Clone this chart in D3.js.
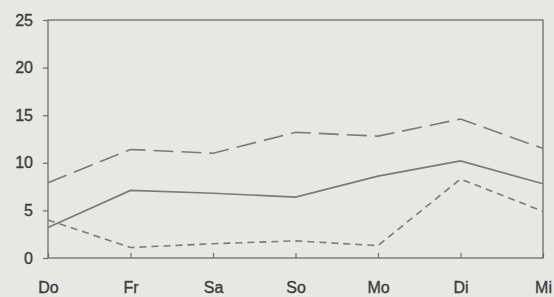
<!DOCTYPE html>
<html><head><meta charset="utf-8">
<script src="https://cdn.jsdelivr.net/npm/d3@7"></script>
<style>html,body{margin:0;padding:0;background:#e7e7e3;}svg{display:block;}</style>
</head><body>
<svg id="c" width="554" height="297"></svg>
<script>
const days = ["Do","Fr","Sa","So","Mo","Di","Mi"];
const longDash = [7.9, 11.4, 11.0, 13.2, 12.8, 14.6, 11.5];
const solid = [3.2, 7.1, 6.8, 6.4, 8.6, 10.2, 7.8];
const shortDash = [4.0, 1.1, 1.5, 1.8, 1.3, 8.3, 4.9];
const yTicks = [0, 5, 10, 15, 20, 25];

const svg = d3.select("#c");
const L = 48, R = 543, T = 20, B = 258;
const x = d3.scalePoint().domain(days).range([L, R]);
const y = d3.scaleLinear().domain([0, 25]).range([B, T]);
const ink = "#6e6e6e", txt = "#3c3c3c";

// frame
svg.append("rect").attr("x", L).attr("y", T).attr("width", R - L).attr("height", B - T)
  .attr("fill", "none").attr("stroke", ink).attr("stroke-width", 1.3);

const yAxis = svg.append("g").attr("transform", `translate(${L},0)`)
  .call(d3.axisLeft(y).tickValues(yTicks).tickSize(5).tickPadding(10));
const xAxis = svg.append("g").attr("transform", `translate(0,${B})`)
  .call(d3.axisBottom(x).tickSize(-5).tickPadding(24));
[yAxis, xAxis].forEach(g => {
  g.select(".domain").remove();
  g.selectAll("line").attr("stroke", ink).attr("stroke-width", 1.2);
  g.selectAll("text").attr("fill", txt).style("font-family", "Liberation Sans, Arial, sans-serif")
    .style("font-size", "16px").attr("stroke", txt).attr("stroke-width", 0.35);
});

const line = d3.line().x((d, i) => x(days[i])).y(d => y(d));
const series = [
  {v: longDash, dash: "20,8"},
  {v: solid, dash: null},
  {v: shortDash, dash: "7,5"}
];
series.forEach(s => {
  const p = svg.append("path").attr("d", line(s.v)).attr("fill", "none")
    .attr("stroke", "#7a7a7a").attr("stroke-width", 1.6);
  if (s.dash) p.attr("stroke-dasharray", s.dash);
});
</script>
</body></html>
